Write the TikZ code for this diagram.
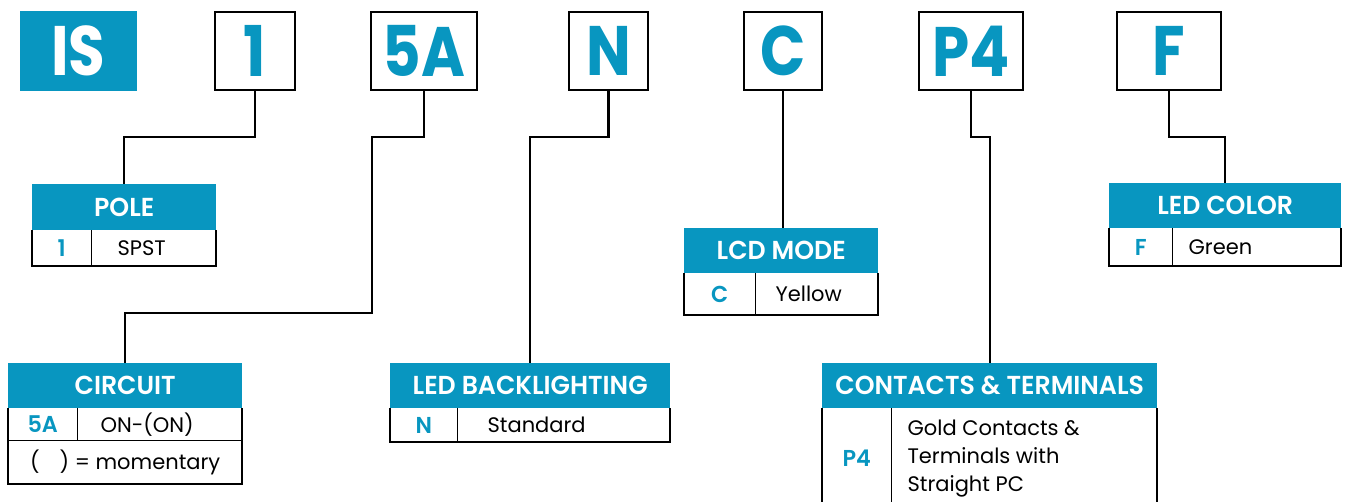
\documentclass[tikz,border=0pt]{standalone}
\usepackage{fontspec}
\setmainfont{Poppins}
\newfontfamily\codefont[FakeStretch=0.85]{Poppins Bold}
\newfontfamily\headfont[FakeStretch=0.97]{Poppins SemiBold}
\usetikzlibrary{positioning}

\definecolor{partblue}{RGB}{8,150,192}

\tikzset{
	codebox/.style = {draw, line width=2.5, minimum height=78, inner sep=0,
		text=partblue, font=\codefont\fontsize{70}{70}\selectfont},
	headbox/.style = {fill=partblue, anchor=north west, inner sep=0, minimum height=45,
		text=white, font=\headfont\fontsize{26}{26}\selectfont},
	keycell/.style = {anchor=north west, inner sep=0, text=partblue,
		text height=16, text depth=0, font=\headfont\fontsize{23}{23}\selectfont},
	valtext/.style = {inner sep=0, text height=15, text depth=0,
		font=\fontsize{21}{21}\selectfont},
	frame/.style = {line width=2},
	divider/.style = {line width=1},
	link/.style = {line width=2.2}
}

\begin{document}
\begin{tikzpicture}[x=1pt, y=-1pt]

	\useasboundingbox (0,0) rectangle (1345,502);

	% part number
	\node [fill=partblue, minimum width=117, minimum height=80, inner sep=0, text=white,
		font=\codefont\fontsize{70}{70}\selectfont] (series) at (78.5,51) {IS};
	\node [codebox, minimum width=80] (pole-code) at (255,51) {1};
	\node [codebox, minimum width=106] (circuit-code) at (424,51) {5A};
	\node [codebox, minimum width=79] (light-code) at (608.5,51) {N};
	\node [codebox, minimum width=78] (mode-code) at (783,51) {C};
	\node [codebox, minimum width=104] (term-code) at (971,51) {P4};
	\node [codebox, minimum width=104] (color-code) at (1169,51) {F};

	% pole
	\node [headbox, minimum width=184, minimum height=46] (pole) at (32,184) {POLE};
	\node [keycell, minimum width=59, minimum height=35] (pole-key) at (pole.south west) {1};
	\node [valtext, right=26 of pole-key] (pole-val) {SPST};
	\draw [frame] (pole.south west) |- (pole-key.south -| pole.east) -- (pole.south east);
	\draw [divider] (pole-key.north east) -- (pole-key.south east);

	% circuit
	\node [headbox, minimum width=234] (circuit) at (8,363) {CIRCUIT};
	\node [keycell, minimum width=69, minimum height=32] (circuit-key) at (circuit.south west) {5A};
	\node [valtext, right=23 of circuit-key] (circuit-val) {ON-(ON)};
	\node [valtext, anchor=north west, minimum width=234, minimum height=43]
		(circuit-note) at (circuit-key.south west) {(\hspace{20pt}) = momentary};
	\draw [frame] (circuit.south west) |- (circuit-note.south east) -- (circuit.south east);
	\draw [divider] (circuit-key.north east) -- (circuit-key.south east);
	\draw [divider] (circuit-note.north west) -- (circuit-note.north east);

	% led backlighting
	\node [headbox, minimum width=280] (light) at (390,363) {LED BACKLIGHTING};
	\node [keycell, minimum width=67, minimum height=33] (light-key) at (light.south west) {N};
	\node [valtext, right=30 of light-key] (light-val) {Standard};
	\draw [frame] (light.south west) |- (light-key.south -| light.east) -- (light.south east);
	\draw [divider] (light-key.north east) -- (light-key.south east);

	% lcd mode
	\node [headbox, minimum width=194] (mode) at (684,228) {LCD MODE};
	\node [keycell, minimum width=71, minimum height=41] (mode-key) at (mode.south west) {C};
	\node [valtext, right=20 of mode-key] (mode-val) {Yellow};
	\draw [frame] (mode.south west) |- (mode-key.south -| mode.east) -- (mode.south east);
	\draw [divider] (mode-key.north east) -- (mode-key.south east);

	% contacts & terminals
	\node [headbox, minimum width=335] (term) at (822,363) {CONTACTS \& TERMINALS};
	\node [keycell, minimum width=69, minimum height=100] (term-key) at (term.south west) {P4};
	\node [inner sep=0, align=left, font=\fontsize{21}{28}\selectfont, right=16 of term-key]
		(term-val) {Gold Contacts \&\\Terminals with\\Straight PC};
	\draw [frame] (term.south west) |- (term-key.south -| term.east) -- (term.south east);
	\draw [divider] (term-key.north east) -- (term-key.south east);

	% led color
	\node [headbox, minimum width=232] (color) at (1109,183) {LED COLOR};
	\node [keycell, minimum width=63, minimum height=37] (color-key) at (color.south west) {F};
	\node [valtext, right=16 of color-key] (color-val) {Green};
	\draw [frame] (color.south west) |- (color-key.south -| color.east) -- (color.south east);
	\draw [divider] (color-key.north east) -- (color-key.south east);

	% links
	\draw [link] (pole-code.south) -- ++(0,46) -| (pole.north);
	\draw [link] (circuit-code.south) -- ++(0,46) -| ++(-52,176) -| (circuit.north);
	\draw [link] (light-code.south) -- ++(0,46) -| (light.north);
	\draw [link] (mode-code.south) -- (mode-code.south |- mode.north);
	\draw [link] (term-code.south) -- ++(0,46) -| (term.north);
	\draw [link] (color-code.south) -- ++(0,46) -| (color.north);

\end{tikzpicture}
\end{document}
